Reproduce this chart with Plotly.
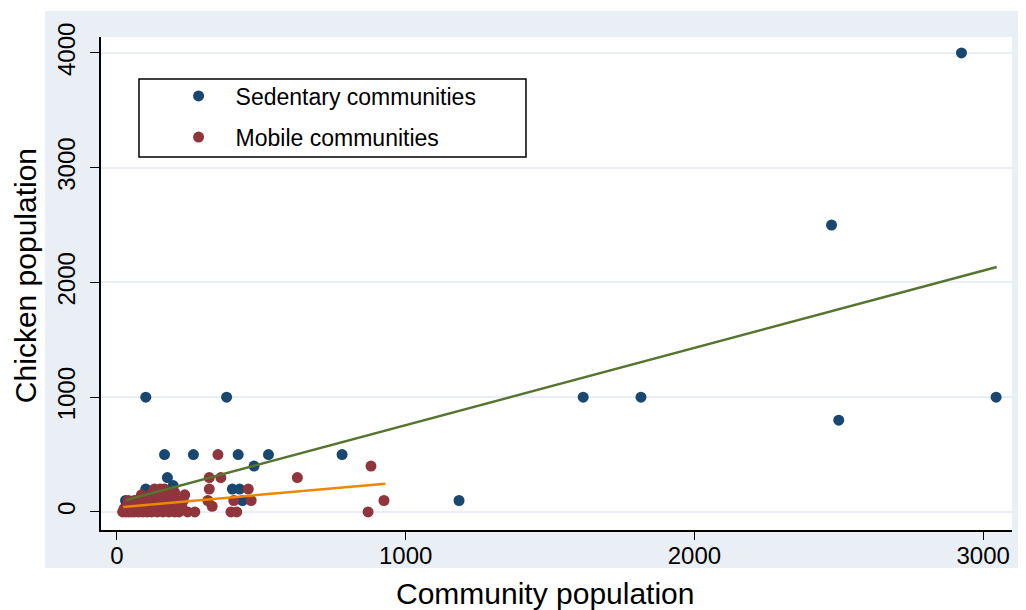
import plotly.graph_objects as go

# Sedentary communities: community population vs chicken population
sed_x = [2925, 2475, 2500, 3045, 1615, 1815, 1185, 100, 380, 780,
         165, 265, 420, 525, 475, 175, 100, 195, 400, 425, 435, 30,
         50, 70, 120, 150, 90, 60, 200]
sed_y = [4000, 2500, 800, 1000, 1000, 1000, 100, 1000, 1000, 500,
         500, 500, 500, 500, 400, 300, 200, 230, 200, 200, 100, 100,
         50, 100, 150, 100, 20, 30, 50]

# Mobile communities
mob_x = [350, 880, 925, 870, 625, 320, 360, 320, 455, 465, 405, 315, 330,
         395, 415, 235, 230, 245, 270,
         20, 30, 40, 50, 60, 75, 90, 105, 120, 140, 160, 180, 200, 215,
         25, 45, 70, 95, 120, 150, 175, 200, 225,
         40, 60, 80, 110, 130, 160, 190, 210,
         85, 120, 140, 175, 200, 150, 165, 130]
mob_y = [500, 400, 100, 0, 300, 300, 300, 200, 200, 100, 100, 100, 50,
         0, 0, 150, 100, 0, 0,
         0, 0, 0, 0, 0, 0, 0, 0, 0, 0, 0, 0, 0, 0,
         30, 50, 40, 50, 50, 50, 50, 60, 50,
         100, 100, 100, 100, 120, 100, 100, 100,
         150, 160, 150, 150, 170, 200, 200, 200]

# linear fit lines (endpoints)
sed_fit_x = [33, 3047]
sed_fit_y = [105, 2135]
mob_fit_x = [22, 930]
mob_fit_y = [44, 247]

NAVY = "#1a476f"
MAROON = "#90353b"
GREEN = "#55752f"
ORANGE = "#ec8800"
BG = "#eaeff5"
FONT = "Liberation Sans, Arial, sans-serif"

fig = go.Figure()

fig.add_trace(go.Scatter(
    x=sed_x, y=sed_y, mode="markers", name="Sedentary communities",
    marker=dict(color=NAVY, size=11), legend="legend",
))
fig.add_trace(go.Scatter(
    x=mob_x, y=mob_y, mode="markers", name="Mobile communities",
    marker=dict(color=MAROON, size=11), legend="legend2",
))
fig.add_trace(go.Scatter(
    x=sed_fit_x, y=sed_fit_y, mode="lines", showlegend=False,
    line=dict(color=GREEN, width=2.5),
))
fig.add_trace(go.Scatter(
    x=mob_fit_x, y=mob_fit_y, mode="lines", showlegend=False,
    line=dict(color=ORANGE, width=2.5),
))

# light graph region with white plot region on top
fig.add_shape(type="rect", xref="paper", yref="paper",
              x0=-0.0615, x1=1.0088, y0=-0.0771, y1=1.0527,
              fillcolor=BG, line_width=0, layer="below")
fig.add_shape(type="rect", xref="x domain", yref="y domain",
              x0=0, x1=1, y0=0, y1=1,
              fillcolor="white", line_width=0, layer="below")
# legend box
fig.add_shape(type="rect", xref="paper", yref="paper",
              x0=0.0417, x1=0.4665, y0=0.7566, y1=0.9148,
              fillcolor="white", line=dict(color="black", width=1.5),
              layer="above")

leg = dict(bgcolor="rgba(0,0,0,0)", borderwidth=0, xanchor="left",
           yanchor="middle", x=0.0665, font=dict(size=23, color="black"),
           itemsizing="trace", itemwidth=64)

# axis titles as annotations (Stata centres them a bit off the plot centre)
fig.add_annotation(text="Community population", xref="paper", yref="paper",
                   x=0.488, y=-0.128, xanchor="center", yanchor="middle",
                   showarrow=False, font=dict(size=30))
fig.add_annotation(text="Chicken population", xref="paper", yref="paper",
                   x=-0.0834, y=0.515, xanchor="center", yanchor="middle",
                   textangle=-90, showarrow=False, font=dict(size=30))

# the page body adds an 8px margin, so the figure is 8px smaller
fig.update_layout(
    width=1018, height=602,
    paper_bgcolor="white",
    plot_bgcolor="white",
    font=dict(family=FONT, color="black"),
    margin=dict(l=93, r=14, t=29, b=80),
    legend=dict(leg, y=0.8803),
    legend2=dict(leg, y=0.797),
    xaxis=dict(
        range=[-55, 3100], tickvals=[0, 1000, 2000, 3000],
        showgrid=False, zeroline=False,
        showline=True, linecolor="black", linewidth=1.5,
        ticks="outside", ticklen=8, tickcolor="black",
        tickfont=dict(size=24), ticklabelstandoff=-5,
    ),
    yaxis=dict(
        range=[-157, 4139], tickvals=[0, 1000, 2000, 3000, 4000],
        showgrid=True, gridcolor=BG, gridwidth=2, zeroline=False,
        showline=True, linecolor="black", linewidth=1.5,
        ticks="outside", ticklen=9, tickcolor="black",
        tickangle=-90, tickfont=dict(size=24), ticklabelstandoff=6,
    ),
)

fig.write_html("out.html")
